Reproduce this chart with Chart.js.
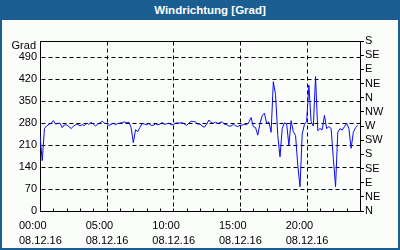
<!DOCTYPE html>
<html>
<head>
<meta charset="utf-8">
<script src="https://cdn.jsdelivr.net/npm/chart.js@4.4.0/dist/chart.umd.min.js"></script>
<style>
html, body { margin: 0; padding: 0; }
body { width: 400px; height: 250px; background: #1b5e92; position: relative; overflow: hidden; font-family: "Liberation Sans", Arial, sans-serif; }
#panel { position: absolute; left: 2px; top: 20px; width: 396px; height: 228px; background: #fbfdfb; }
#title { position: absolute; left: 10px; top: 0; width: 400px; height: 20px; line-height: 20px; text-align: center; color: #fff; font-weight: bold; font-size: 11.5px; }
canvas { position: absolute; left: 0; top: 0; }
</style>
</head>
<body>
<div id="panel"></div>
<div id="title">Windrichtung [Grad]</div>
<canvas id="chart" width="400" height="250"></canvas>
<script>
// tick labels
const tickHours = [0, 5, 10, 15, 20]
const timeLabels = ['00:00', '05:00', '10:00', '15:00', '20:00']
const dateLabel = '08.12.16'
const gradTicks = [0, 70, 140, 210, 280, 350, 420, 490]
const compassTicks = [0, 45, 90, 135, 180, 225, 270, 315, 360, 405, 450, 495, 540]
const compassLabels = ['N', 'NE', 'E', 'SE', 'S', 'SW', 'W', 'NW', 'N', 'NE', 'E', 'SE', 'S']

// wind direction in degrees, one value every 10 minutes from 00:00
const sampleMinutes = 10
const windDir = [
    240, 160, 262, 270, 275, 279,
    287, 276, 278, 279, 265, 274,
    273, 268, 262, 269, 274, 275,
    271, 274, 272, 279, 275, 282,
    276, 270, 276, 280, 285, 279,
    278, 272, 275, 279, 274, 278,
    279, 281, 283, 280, 282, 265,
    217, 258, 252, 266, 278, 276,
    274, 278, 272, 272, 277, 274,
    276, 281, 275, 277, 279, 274,
    274, 279, 280, 279, 281, 276,
    272, 279, 285, 284, 283, 276,
    276, 270, 266, 276, 289, 281,
    279, 282, 278, 281, 283, 276,
    274, 270, 270, 275, 271, 268,
    272, 273, 275, 274, 282, 297,
    268, 265, 241, 278, 303, 311,
    278, 283, 250, 411, 370, 240,
    172, 262, 280, 276, 209, 287,
    252, 240, 146, 77, 245, 275,
    285, 400, 284, 270, 427, 255,
    262, 258, 304, 262, 268, 262,
    167, 77, 250, 262, 257, 268,
    279, 262, 199, 250, 265, 272,
]

const points = windDir.map((v, i) => ({ x: i * sampleMinutes / 60, y: v }))

const font = { family: '"Liberation Sans", Arial, sans-serif', size: 11, lineHeight: 15 / 11 }

// dashed grid, frame, hour ticks and the "Grad" caption
const framePlugin = {
    id: 'frame',
    beforeDatasetsDraw(chart) {
        const { ctx, chartArea: a, scales } = chart
        const L = Math.round(a.left) + 0.5
        const R = Math.round(a.right) + 0.5
        const T = Math.round(a.top) + 0.5
        const B = Math.round(a.bottom) + 0.5
        ctx.save()
        ctx.strokeStyle = '#000'
        ctx.lineWidth = 1
        ctx.setLineDash([4, 3])
        ctx.beginPath()
        gradTicks.forEach(v => {
            if (v === 0) return
            const y = Math.round(scales.y.getPixelForValue(v)) + 0.5
            ctx.moveTo(L + 1, y)
            ctx.lineTo(R, y)
        })
        tickHours.forEach(h => {
            if (h === 0) return
            const x = Math.round(scales.x.getPixelForValue(h)) + 0.5
            ctx.moveTo(x, T)
            ctx.lineTo(x, B)
        })
        ctx.stroke()
        ctx.setLineDash([])
        ctx.beginPath()
        for (let h = 1; h < 24; h++) {
            const x = Math.round(scales.x.getPixelForValue(h)) + 0.5
            ctx.moveTo(x, B)
            ctx.lineTo(x, B - 3)
        }
        ctx.stroke()
        ctx.strokeRect(L, T, R - L, B - T)
        ctx.fillStyle = '#000'
        ctx.font = '11px "Liberation Sans", Arial, sans-serif'
        ctx.textAlign = 'right'
        ctx.textBaseline = 'middle'
        ctx.fillText('Grad', a.left - 4, a.top + 5)
        ctx.restore()
    }
}

const ctx = document.getElementById('chart').getContext('2d')

const windChart = new Chart(ctx, {
    type: 'line',
    data: {
        datasets: [
            {
                data: points,
                borderColor: 'rgb(10,10,240)',
                borderWidth: 1,
                pointRadius: 0,
                tension: 0,
                fill: false,
            },
        ],
    },
    options: {
        responsive: false,
        animation: false,
        layout: { padding: { top: 41, left: 0, right: 0, bottom: 0 } },
        plugins: { legend: { display: false }, tooltip: { enabled: false } },
        scales: {
            x: {
                type: 'linear',
                min: 0,
                max: 24,
                afterBuildTicks: s => { s.ticks = tickHours.map(v => ({ value: v })) },
                afterFit: s => { s.height = 39; s.paddingLeft = 0; s.paddingRight = 0 },
                grid: { display: false, drawTicks: false },
                border: { display: false },
                ticks: {
                    autoSkip: false,
                    maxRotation: 0,
                    align: 'start',
                    labelOffset: -21,
                    padding: 7,
                    color: '#000',
                    font: font,
                    callback: (v, i) => [timeLabels[i], dateLabel],
                },
            },
            y: {
                position: 'left',
                min: 0,
                max: 540,
                afterBuildTicks: s => { s.ticks = gradTicks.map(v => ({ value: v })) },
                afterFit: s => { s.width = 40 },
                grid: { display: false, drawTicks: false },
                border: { display: false },
                ticks: { autoSkip: false, padding: 3, color: '#000', font: { family: font.family, size: 11 } },
            },
            y2: {
                position: 'right',
                min: 0,
                max: 540,
                afterBuildTicks: s => { s.ticks = compassTicks.map(v => ({ value: v })) },
                afterFit: s => { s.width = 40 },
                grid: { display: true, drawOnChartArea: false, drawTicks: true, tickLength: 4, color: '#000' },
                border: { display: false },
                ticks: {
                    autoSkip: false,
                    padding: 1,
                    color: '#000',
                    font: { family: font.family, size: 11 },
                    callback: (v, i) => compassLabels[i],
                },
            },
        },
    },
    plugins: [framePlugin],
})
</script>
</body>
</html>
